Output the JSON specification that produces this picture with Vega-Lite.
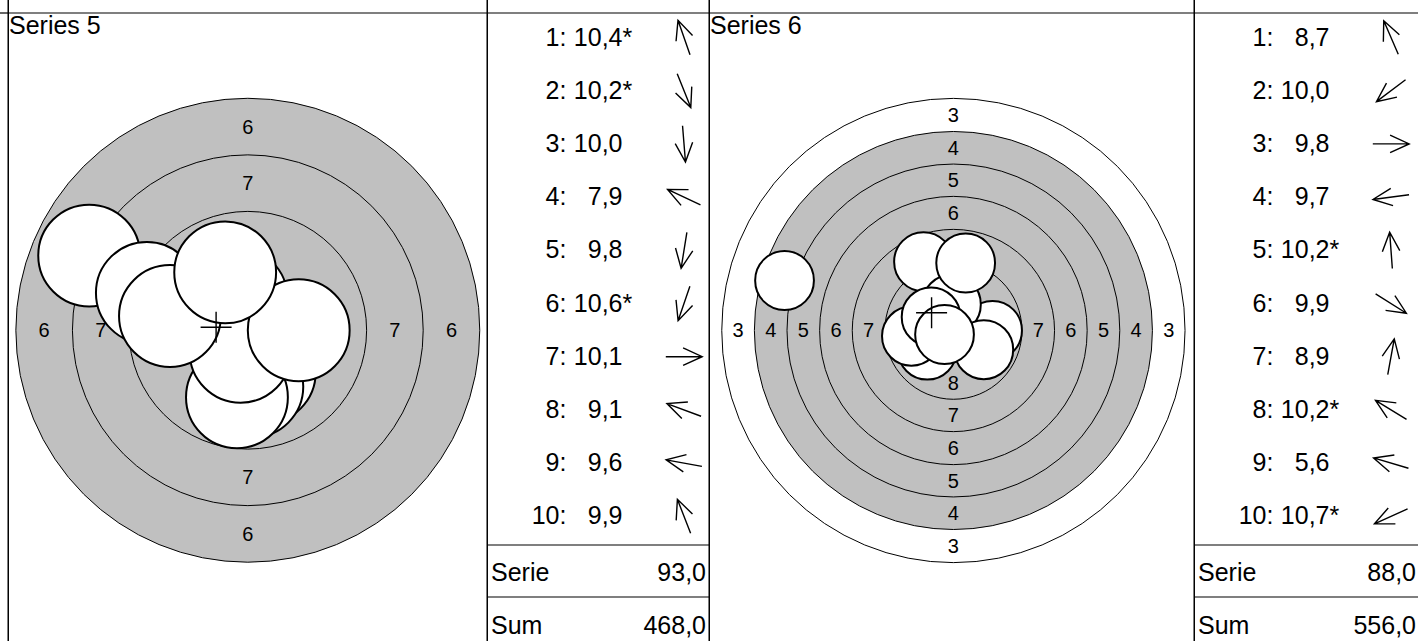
{
  "$schema": "https://vega.github.io/schema/vega-lite/v6.json",
  "background": "white",
  "padding": {"left": -14, "top": -21, "right": -4, "bottom": -9},
  "spacing": 0,
  "bounds": "flush",
  "resolve": {"scale": {"size": "independent", "x": "independent", "y": "independent"}},
  "config": {
    "font": "Liberation Sans",
    "locale": {"number": {"decimal": ",", "thousands": ".", "grouping": [3], "currency": ["", " €"]}},
    "view": {"stroke": "black", "strokeWidth": 1.2},
    "concat": {"spacing": 0},
    "text": {"color": "black"}
  },
  "datasets": {
    "blank": [{}],
    "series": [
      {"series": 5, "name": "Series 5", "serie": 93, "total": 468},
      {"series": 6, "name": "Series 6", "serie": 88, "total": 556}
    ],
    "shots": [
      {"series": 5, "n": 1, "score": 10.4, "ring": 10, "inner": true, "x": -0.50, "y": -1.42, "dir": 250.7},
      {"series": 5, "n": 2, "score": 10.2, "ring": 10, "inner": true, "x": 0.75, "y": 1.86, "dir": 68.1},
      {"series": 5, "n": 3, "score": 10.0, "ring": 10, "inner": false, "x": 0.20, "y": 2.49, "dir": 85.4},
      {"series": 5, "n": 4, "score": 7.9, "ring": 7, "inner": false, "x": -7.01, "y": -3.30, "dir": 205.2},
      {"series": 5, "n": 5, "score": 9.8, "ring": 9, "inner": false, "x": -0.48, "y": 2.96, "dir": 99.1},
      {"series": 5, "n": 6, "score": 10.6, "ring": 10, "inner": true, "x": -0.32, "y": 0.95, "dir": 108.9},
      {"series": 5, "n": 7, "score": 10.1, "ring": 10, "inner": false, "x": 2.25, "y": 0.00, "dir": 0},
      {"series": 5, "n": 8, "score": 9.1, "ring": 9, "inner": false, "x": -4.46, "y": -1.65, "dir": 200.3},
      {"series": 5, "n": 9, "score": 9.6, "ring": 9, "inner": false, "x": -3.44, "y": -0.63, "dir": 190.4},
      {"series": 5, "n": 10, "score": 9.9, "ring": 9, "inner": false, "x": -1.00, "y": -2.56, "dir": 248.7},
      {"series": 6, "n": 1, "score": 8.7, "ring": 8, "inner": false, "x": -2.29, "y": -5.27, "dir": 246.5},
      {"series": 6, "n": 2, "score": 10.0, "ring": 10, "inner": false, "x": -2.00, "y": 1.50, "dir": 143.1},
      {"series": 6, "n": 3, "score": 9.8, "ring": 9, "inner": false, "x": 3.00, "y": 0.00, "dir": 0},
      {"series": 6, "n": 4, "score": 9.7, "ring": 9, "inner": false, "x": -3.22, "y": 0.43, "dir": 172.4},
      {"series": 6, "n": 5, "score": 10.2, "ring": 10, "inner": true, "x": -0.15, "y": -2.00, "dir": 265.8},
      {"series": 6, "n": 6, "score": 9.9, "ring": 9, "inner": false, "x": 2.33, "y": 1.47, "dir": 32.3},
      {"series": 6, "n": 7, "score": 8.9, "ring": 8, "inner": false, "x": 0.94, "y": -5.17, "dir": 280.3},
      {"series": 6, "n": 8, "score": 10.2, "ring": 10, "inner": true, "x": -1.71, "y": -1.04, "dir": 211.4},
      {"series": 6, "n": 9, "score": 5.6, "ring": 5, "inner": false, "x": -12.94, "y": -3.83, "dir": 196.5},
      {"series": 6, "n": 10, "score": 10.7, "ring": 10, "inner": true, "x": -0.68, "y": 0.31, "dir": 155.8}
    ],
    "rings": [
      {"series": 5, "ring": 6, "r": 10.25},
      {"series": 5, "ring": 7, "r": 7.75},
      {"series": 5, "ring": 8, "r": 5.25},
      {"series": 6, "ring": 3, "r": 17.75},
      {"series": 6, "ring": 4, "r": 15.25},
      {"series": 6, "ring": 5, "r": 12.75},
      {"series": 6, "ring": 6, "r": 10.25},
      {"series": 6, "ring": 7, "r": 7.75},
      {"series": 6, "ring": 8, "r": 5.25}
    ],
    "labels": [
      {"series": 5, "ring": 6, "x": 0, "y": -9.0}, {"series": 5, "ring": 6, "x": 0, "y": 9.0}, {"series": 5, "ring": 6, "x": -9.0, "y": 0}, {"series": 5, "ring": 6, "x": 9.0, "y": 0},
      {"series": 5, "ring": 7, "x": 0, "y": -6.5}, {"series": 5, "ring": 7, "x": 0, "y": 6.5}, {"series": 5, "ring": 7, "x": -6.5, "y": 0}, {"series": 5, "ring": 7, "x": 6.5, "y": 0},
      {"series": 5, "ring": 8, "x": 0, "y": -4.0}, {"series": 5, "ring": 8, "x": 0, "y": 4.0}, {"series": 5, "ring": 8, "x": -4.0, "y": 0}, {"series": 5, "ring": 8, "x": 4.0, "y": 0},
      {"series": 6, "ring": 3, "x": 0, "y": -16.5}, {"series": 6, "ring": 3, "x": 0, "y": 16.5}, {"series": 6, "ring": 3, "x": -16.5, "y": 0}, {"series": 6, "ring": 3, "x": 16.5, "y": 0},
      {"series": 6, "ring": 4, "x": 0, "y": -14.0}, {"series": 6, "ring": 4, "x": 0, "y": 14.0}, {"series": 6, "ring": 4, "x": -14.0, "y": 0}, {"series": 6, "ring": 4, "x": 14.0, "y": 0},
      {"series": 6, "ring": 5, "x": 0, "y": -11.5}, {"series": 6, "ring": 5, "x": 0, "y": 11.5}, {"series": 6, "ring": 5, "x": -11.5, "y": 0}, {"series": 6, "ring": 5, "x": 11.5, "y": 0},
      {"series": 6, "ring": 6, "x": 0, "y": -9.0}, {"series": 6, "ring": 6, "x": 0, "y": 9.0}, {"series": 6, "ring": 6, "x": -9.0, "y": 0}, {"series": 6, "ring": 6, "x": 9.0, "y": 0},
      {"series": 6, "ring": 7, "x": 0, "y": -6.5}, {"series": 6, "ring": 7, "x": 0, "y": 6.5}, {"series": 6, "ring": 7, "x": -6.5, "y": 0}, {"series": 6, "ring": 7, "x": 6.5, "y": 0},
      {"series": 6, "ring": 8, "x": 0, "y": -4.0}, {"series": 6, "ring": 8, "x": 0, "y": 4.0}, {"series": 6, "ring": 8, "x": -4.0, "y": 0}, {"series": 6, "ring": 8, "x": 4.0, "y": 0}
    ]
  },
  "hconcat": [
    {
      "width": 20, "height": 669,
      "data": {"name": "blank"},
      "mark": {"type": "rule", "color": "black", "strokeWidth": 1.2},
      "encoding": {"y": {"datum": 0, "type": "quantitative", "scale": {"domain": [-33, 636], "reverse": true, "nice": false, "zero": false}, "axis": null}}
    },
    {
      "width": 479, "height": 669,
      "layer": [
        {
          "data": {"name": "rings"}, "transform": [{"filter": "datum.series == 5"}],
          "mark": {"type": "point", "shape": "circle", "filled": true, "opacity": 1, "stroke": "black", "strokeWidth": 1},
          "encoding": {
            "x": {"datum": 0, "type": "quantitative", "scale": {"domain": [-10.597, 10.570], "nice": false, "zero": false}, "axis": null},
            "y": {"datum": 0, "type": "quantitative", "scale": {"domain": [-15.477, 14.085], "reverse": true, "nice": false, "zero": false}, "axis": null},
            "size": {"field": "r", "type": "quantitative", "scale": {"type": "pow", "exponent": 2, "domain": [0, 20], "range": [0, 819387]}, "legend": null},
            "fill": {"condition": {"test": "datum.ring >= 4", "value": "#c0c0c0"}, "value": "white"}
          }
        },
        {
          "data": {"name": "labels"}, "transform": [{"filter": "datum.series == 5"}],
          "mark": {"type": "text", "fontSize": 20, "align": "center", "baseline": "middle", "dy": 1, "color": "black"},
          "encoding": {
            "x": {"field": "x", "type": "quantitative", "scale": {"domain": [-10.597, 10.570], "nice": false, "zero": false}, "axis": null},
            "y": {"field": "y", "type": "quantitative", "scale": {"domain": [-15.477, 14.085], "reverse": true, "nice": false, "zero": false}, "axis": null},
            "text": {"field": "ring", "type": "nominal"}
          }
        },
        {
          "data": {"name": "shots"}, "transform": [{"filter": "datum.series == 5"}],
          "mark": {"type": "point", "shape": "circle", "filled": true, "fill": "white", "opacity": 1, "stroke": "black", "strokeWidth": 2},
          "encoding": {
            "x": {"field": "x", "type": "quantitative", "scale": {"domain": [-10.597, 10.570], "nice": false, "zero": false}, "axis": null},
            "y": {"field": "y", "type": "quantitative", "scale": {"domain": [-15.477, 14.085], "reverse": true, "nice": false, "zero": false}, "axis": null},
            "size": {"datum": 2.25, "type": "quantitative", "scale": {"type": "pow", "exponent": 2, "domain": [0, 20], "range": [0, 819387]}, "legend": null}
          }
        },
        {
          "data": {"name": "shots"},
          "transform": [{"filter": "datum.series == 5"}, {"aggregate": [{"op": "mean", "field": "x", "as": "mx"}, {"op": "mean", "field": "y", "as": "my"}]}],
          "mark": {"type": "point", "shape": "M-1,0L1,0M0,-1L0,1", "size": 961, "filled": false, "opacity": 1, "stroke": "black", "strokeWidth": 1.4},
          "encoding": {
            "x": {"field": "mx", "type": "quantitative", "scale": {"domain": [-10.597, 10.570], "nice": false, "zero": false}, "axis": null},
            "y": {"field": "my", "type": "quantitative", "scale": {"domain": [-15.477, 14.085], "reverse": true, "nice": false, "zero": false}, "axis": null}
          }
        },
        {
          "data": {"name": "blank"},
          "mark": {"type": "rule", "color": "black", "strokeWidth": 1.2},
          "encoding": {
            "y": {"datum": -14.019, "type": "quantitative", "scale": {"domain": [-15.477, 14.085], "reverse": true, "nice": false, "zero": false}, "axis": null}
          }
        },
        {
          "data": {"name": "series"}, "transform": [{"filter": "datum.series == 5"}],
          "mark": {"type": "text", "align": "left", "baseline": "top", "fontSize": 25, "dx": 1, "dy": 1, "color": "black"},
          "encoding": {
            "x": {"datum": -10.597, "type": "quantitative", "scale": {"domain": [-10.597, 10.570], "nice": false, "zero": false}, "axis": null},
            "y": {"datum": -14.019, "type": "quantitative", "scale": {"domain": [-15.477, 14.085], "reverse": true, "nice": false, "zero": false}, "axis": null},
            "text": {"field": "name", "type": "nominal"}
          }
        }
      ]
    },
    {
      "width": 222, "height": 669,
      "layer": [
        {
          "data": {"name": "shots"}, "transform": [{"filter": "datum.series == 5"}],
          "mark": {"type": "text", "align": "right", "baseline": "middle", "fontSize": 25, "color": "black"},
          "encoding": {
            "x": {"datum": 72.5, "type": "quantitative", "scale": {"domain": [0, 222], "nice": false, "zero": false}, "axis": null},
            "y": {"field": "n", "type": "quantitative", "scale": {"domain": [-0.0808, 12.494], "reverse": true, "nice": false, "zero": false}, "axis": null},
            "text": {"field": "n", "type": "nominal"}
          }
        },
        {
          "data": {"name": "shots"}, "transform": [{"filter": "datum.series == 5"}],
          "mark": {"type": "text", "align": "left", "baseline": "middle", "fontSize": 25, "color": "black"},
          "encoding": {
            "x": {"datum": 72.5, "type": "quantitative", "scale": {"domain": [0, 222], "nice": false, "zero": false}, "axis": null},
            "y": {"field": "n", "type": "quantitative", "scale": {"domain": [-0.0808, 12.494], "reverse": true, "nice": false, "zero": false}, "axis": null},
            "text": {"value": ":"}
          }
        },
        {
          "data": {"name": "shots"}, "transform": [{"filter": "datum.series == 5"}],
          "mark": {"type": "text", "align": "right", "baseline": "middle", "fontSize": 25, "color": "black"},
          "encoding": {
            "x": {"datum": 135.5, "type": "quantitative", "scale": {"domain": [0, 222], "nice": false, "zero": false}, "axis": null},
            "y": {"field": "n", "type": "quantitative", "scale": {"domain": [-0.0808, 12.494], "reverse": true, "nice": false, "zero": false}, "axis": null},
            "text": {"field": "score", "type": "quantitative", "format": ".1f"}
          }
        },
        {
          "data": {"name": "shots"}, "transform": [{"filter": "datum.series == 5 && datum.inner"}],
          "mark": {"type": "text", "align": "left", "baseline": "middle", "fontSize": 25, "color": "black"},
          "encoding": {
            "x": {"datum": 135.5, "type": "quantitative", "scale": {"domain": [0, 222], "nice": false, "zero": false}, "axis": null},
            "y": {"field": "n", "type": "quantitative", "scale": {"domain": [-0.0808, 12.494], "reverse": true, "nice": false, "zero": false}, "axis": null},
            "text": {"value": "*"}
          }
        },
        {
          "data": {"name": "shots"}, "transform": [{"filter": "datum.series == 5"}],
          "mark": {"type": "point", "shape": "M-1,0L1,0M-0.05,-0.48L1,0L-0.05,0.48", "size": 1325, "filled": false, "opacity": 1, "stroke": "black", "strokeWidth": 1.4},
          "encoding": {
            "x": {"datum": 197, "type": "quantitative", "scale": {"domain": [0, 222], "nice": false, "zero": false}, "axis": null},
            "y": {"field": "n", "type": "quantitative", "scale": {"domain": [-0.0808, 12.494], "reverse": true, "nice": false, "zero": false}, "axis": null},
            "angle": {"field": "dir", "type": "quantitative", "scale": null}
          }
        },
        {
          "data": {"values": [{"edge": 0.5395}, {"edge": 10.5395}, {"edge": 11.517}]},
          "mark": {"type": "rule", "color": "black", "strokeWidth": 1.2},
          "encoding": {
            "y": {"field": "edge", "type": "quantitative", "scale": {"domain": [-0.0808, 12.494], "reverse": true, "nice": false, "zero": false}, "axis": null}
          }
        },
        {
          "data": {"name": "series"}, "transform": [{"filter": "datum.series == 5"}],
          "mark": {"type": "text", "align": "left", "baseline": "middle", "fontSize": 25, "dy": 3, "color": "black"},
          "encoding": {
            "x": {"datum": 4, "type": "quantitative", "scale": {"domain": [0, 222], "nice": false, "zero": false}, "axis": null},
            "y": {"datum": 11, "type": "quantitative", "scale": {"domain": [-0.0808, 12.494], "reverse": true, "nice": false, "zero": false}, "axis": null},
            "text": {"value": "Serie"}
          }
        },
        {
          "data": {"name": "series"}, "transform": [{"filter": "datum.series == 5"}],
          "mark": {"type": "text", "align": "right", "baseline": "middle", "fontSize": 25, "dy": 3, "color": "black"},
          "encoding": {
            "x": {"datum": 219, "type": "quantitative", "scale": {"domain": [0, 222], "nice": false, "zero": false}, "axis": null},
            "y": {"datum": 11, "type": "quantitative", "scale": {"domain": [-0.0808, 12.494], "reverse": true, "nice": false, "zero": false}, "axis": null},
            "text": {"field": "serie", "type": "quantitative", "format": ".1f"}
          }
        },
        {
          "data": {"name": "series"}, "transform": [{"filter": "datum.series == 5"}],
          "mark": {"type": "text", "align": "left", "baseline": "middle", "fontSize": 25, "dy": 3, "color": "black"},
          "encoding": {
            "x": {"datum": 4, "type": "quantitative", "scale": {"domain": [0, 222], "nice": false, "zero": false}, "axis": null},
            "y": {"datum": 12, "type": "quantitative", "scale": {"domain": [-0.0808, 12.494], "reverse": true, "nice": false, "zero": false}, "axis": null},
            "text": {"value": "Sum"}
          }
        },
        {
          "data": {"name": "series"}, "transform": [{"filter": "datum.series == 5"}],
          "mark": {"type": "text", "align": "right", "baseline": "middle", "fontSize": 25, "dy": 3, "color": "black"},
          "encoding": {
            "x": {"datum": 219, "type": "quantitative", "scale": {"domain": [0, 222], "nice": false, "zero": false}, "axis": null},
            "y": {"datum": 12, "type": "quantitative", "scale": {"domain": [-0.0808, 12.494], "reverse": true, "nice": false, "zero": false}, "axis": null},
            "text": {"field": "total", "type": "quantitative", "format": ".1f"}
          }
        }
      ]
    },
    {
      "width": 485, "height": 669,
      "layer": [
        {
          "data": {"name": "rings"}, "transform": [{"filter": "datum.series == 6"}],
          "mark": {"type": "point", "shape": "circle", "filled": true, "opacity": 1, "stroke": "black", "strokeWidth": 1},
          "encoding": {
            "x": {"datum": 0, "type": "quantitative", "scale": {"domain": [-18.728, 18.437], "nice": false, "zero": false}, "axis": null},
            "y": {"datum": 0, "type": "quantitative", "scale": {"domain": [-26.858, 24.406], "reverse": true, "nice": false, "zero": false}, "axis": null},
            "size": {"field": "r", "type": "quantitative", "scale": {"type": "pow", "exponent": 2, "domain": [0, 20], "range": [0, 272484]}, "legend": null},
            "fill": {"condition": {"test": "datum.ring >= 4", "value": "#c0c0c0"}, "value": "white"}
          }
        },
        {
          "data": {"name": "labels"}, "transform": [{"filter": "datum.series == 6"}],
          "mark": {"type": "text", "fontSize": 20, "align": "center", "baseline": "middle", "dy": 1, "color": "black"},
          "encoding": {
            "x": {"field": "x", "type": "quantitative", "scale": {"domain": [-18.728, 18.437], "nice": false, "zero": false}, "axis": null},
            "y": {"field": "y", "type": "quantitative", "scale": {"domain": [-26.858, 24.406], "reverse": true, "nice": false, "zero": false}, "axis": null},
            "text": {"field": "ring", "type": "nominal"}
          }
        },
        {
          "data": {"name": "shots"}, "transform": [{"filter": "datum.series == 6"}],
          "mark": {"type": "point", "shape": "circle", "filled": true, "fill": "white", "opacity": 1, "stroke": "black", "strokeWidth": 2},
          "encoding": {
            "x": {"field": "x", "type": "quantitative", "scale": {"domain": [-18.728, 18.437], "nice": false, "zero": false}, "axis": null},
            "y": {"field": "y", "type": "quantitative", "scale": {"domain": [-26.858, 24.406], "reverse": true, "nice": false, "zero": false}, "axis": null},
            "size": {"datum": 2.25, "type": "quantitative", "scale": {"type": "pow", "exponent": 2, "domain": [0, 20], "range": [0, 272484]}, "legend": null}
          }
        },
        {
          "data": {"name": "shots"},
          "transform": [{"filter": "datum.series == 6"}, {"aggregate": [{"op": "mean", "field": "x", "as": "mx"}, {"op": "mean", "field": "y", "as": "my"}]}],
          "mark": {"type": "point", "shape": "M-1,0L1,0M0,-1L0,1", "size": 961, "filled": false, "opacity": 1, "stroke": "black", "strokeWidth": 1.4},
          "encoding": {
            "x": {"field": "mx", "type": "quantitative", "scale": {"domain": [-18.728, 18.437], "nice": false, "zero": false}, "axis": null},
            "y": {"field": "my", "type": "quantitative", "scale": {"domain": [-26.858, 24.406], "reverse": true, "nice": false, "zero": false}, "axis": null}
          }
        },
        {
          "data": {"name": "blank"},
          "mark": {"type": "rule", "color": "black", "strokeWidth": 1.2},
          "encoding": {
            "y": {"datum": -24.33, "type": "quantitative", "scale": {"domain": [-26.858, 24.406], "reverse": true, "nice": false, "zero": false}, "axis": null}
          }
        },
        {
          "data": {"name": "series"}, "transform": [{"filter": "datum.series == 6"}],
          "mark": {"type": "text", "align": "left", "baseline": "top", "fontSize": 25, "dx": 1, "dy": 1, "color": "black"},
          "encoding": {
            "x": {"datum": -18.728, "type": "quantitative", "scale": {"domain": [-18.728, 18.437], "nice": false, "zero": false}, "axis": null},
            "y": {"datum": -24.33, "type": "quantitative", "scale": {"domain": [-26.858, 24.406], "reverse": true, "nice": false, "zero": false}, "axis": null},
            "text": {"field": "name", "type": "nominal"}
          }
        }
      ]
    },
    {
      "width": 226, "height": 669,
      "layer": [
        {
          "data": {"name": "shots"}, "transform": [{"filter": "datum.series == 6"}],
          "mark": {"type": "text", "align": "right", "baseline": "middle", "fontSize": 25, "color": "black"},
          "encoding": {
            "x": {"datum": 72.5, "type": "quantitative", "scale": {"domain": [0, 226], "nice": false, "zero": false}, "axis": null},
            "y": {"field": "n", "type": "quantitative", "scale": {"domain": [-0.0808, 12.494], "reverse": true, "nice": false, "zero": false}, "axis": null},
            "text": {"field": "n", "type": "nominal"}
          }
        },
        {
          "data": {"name": "shots"}, "transform": [{"filter": "datum.series == 6"}],
          "mark": {"type": "text", "align": "left", "baseline": "middle", "fontSize": 25, "color": "black"},
          "encoding": {
            "x": {"datum": 72.5, "type": "quantitative", "scale": {"domain": [0, 226], "nice": false, "zero": false}, "axis": null},
            "y": {"field": "n", "type": "quantitative", "scale": {"domain": [-0.0808, 12.494], "reverse": true, "nice": false, "zero": false}, "axis": null},
            "text": {"value": ":"}
          }
        },
        {
          "data": {"name": "shots"}, "transform": [{"filter": "datum.series == 6"}],
          "mark": {"type": "text", "align": "right", "baseline": "middle", "fontSize": 25, "color": "black"},
          "encoding": {
            "x": {"datum": 135.5, "type": "quantitative", "scale": {"domain": [0, 226], "nice": false, "zero": false}, "axis": null},
            "y": {"field": "n", "type": "quantitative", "scale": {"domain": [-0.0808, 12.494], "reverse": true, "nice": false, "zero": false}, "axis": null},
            "text": {"field": "score", "type": "quantitative", "format": ".1f"}
          }
        },
        {
          "data": {"name": "shots"}, "transform": [{"filter": "datum.series == 6 && datum.inner"}],
          "mark": {"type": "text", "align": "left", "baseline": "middle", "fontSize": 25, "color": "black"},
          "encoding": {
            "x": {"datum": 135.5, "type": "quantitative", "scale": {"domain": [0, 226], "nice": false, "zero": false}, "axis": null},
            "y": {"field": "n", "type": "quantitative", "scale": {"domain": [-0.0808, 12.494], "reverse": true, "nice": false, "zero": false}, "axis": null},
            "text": {"value": "*"}
          }
        },
        {
          "data": {"name": "shots"}, "transform": [{"filter": "datum.series == 6"}],
          "mark": {"type": "point", "shape": "M-1,0L1,0M-0.05,-0.48L1,0L-0.05,0.48", "size": 1325, "filled": false, "opacity": 1, "stroke": "black", "strokeWidth": 1.4},
          "encoding": {
            "x": {"datum": 197, "type": "quantitative", "scale": {"domain": [0, 226], "nice": false, "zero": false}, "axis": null},
            "y": {"field": "n", "type": "quantitative", "scale": {"domain": [-0.0808, 12.494], "reverse": true, "nice": false, "zero": false}, "axis": null},
            "angle": {"field": "dir", "type": "quantitative", "scale": null}
          }
        },
        {
          "data": {"values": [{"edge": 0.5395}, {"edge": 10.5395}, {"edge": 11.517}]},
          "mark": {"type": "rule", "color": "black", "strokeWidth": 1.2},
          "encoding": {
            "y": {"field": "edge", "type": "quantitative", "scale": {"domain": [-0.0808, 12.494], "reverse": true, "nice": false, "zero": false}, "axis": null}
          }
        },
        {
          "data": {"name": "series"}, "transform": [{"filter": "datum.series == 6"}],
          "mark": {"type": "text", "align": "left", "baseline": "middle", "fontSize": 25, "dy": 3, "color": "black"},
          "encoding": {
            "x": {"datum": 4, "type": "quantitative", "scale": {"domain": [0, 226], "nice": false, "zero": false}, "axis": null},
            "y": {"datum": 11, "type": "quantitative", "scale": {"domain": [-0.0808, 12.494], "reverse": true, "nice": false, "zero": false}, "axis": null},
            "text": {"value": "Serie"}
          }
        },
        {
          "data": {"name": "series"}, "transform": [{"filter": "datum.series == 6"}],
          "mark": {"type": "text", "align": "right", "baseline": "middle", "fontSize": 25, "dy": 3, "color": "black"},
          "encoding": {
            "x": {"datum": 222, "type": "quantitative", "scale": {"domain": [0, 226], "nice": false, "zero": false}, "axis": null},
            "y": {"datum": 11, "type": "quantitative", "scale": {"domain": [-0.0808, 12.494], "reverse": true, "nice": false, "zero": false}, "axis": null},
            "text": {"field": "serie", "type": "quantitative", "format": ".1f"}
          }
        },
        {
          "data": {"name": "series"}, "transform": [{"filter": "datum.series == 6"}],
          "mark": {"type": "text", "align": "left", "baseline": "middle", "fontSize": 25, "dy": 3, "color": "black"},
          "encoding": {
            "x": {"datum": 4, "type": "quantitative", "scale": {"domain": [0, 226], "nice": false, "zero": false}, "axis": null},
            "y": {"datum": 12, "type": "quantitative", "scale": {"domain": [-0.0808, 12.494], "reverse": true, "nice": false, "zero": false}, "axis": null},
            "text": {"value": "Sum"}
          }
        },
        {
          "data": {"name": "series"}, "transform": [{"filter": "datum.series == 6"}],
          "mark": {"type": "text", "align": "right", "baseline": "middle", "fontSize": 25, "dy": 3, "color": "black"},
          "encoding": {
            "x": {"datum": 222, "type": "quantitative", "scale": {"domain": [0, 226], "nice": false, "zero": false}, "axis": null},
            "y": {"datum": 12, "type": "quantitative", "scale": {"domain": [-0.0808, 12.494], "reverse": true, "nice": false, "zero": false}, "axis": null},
            "text": {"field": "total", "type": "quantitative", "format": ".1f"}
          }
        }
      ]
    }
  ]
}
